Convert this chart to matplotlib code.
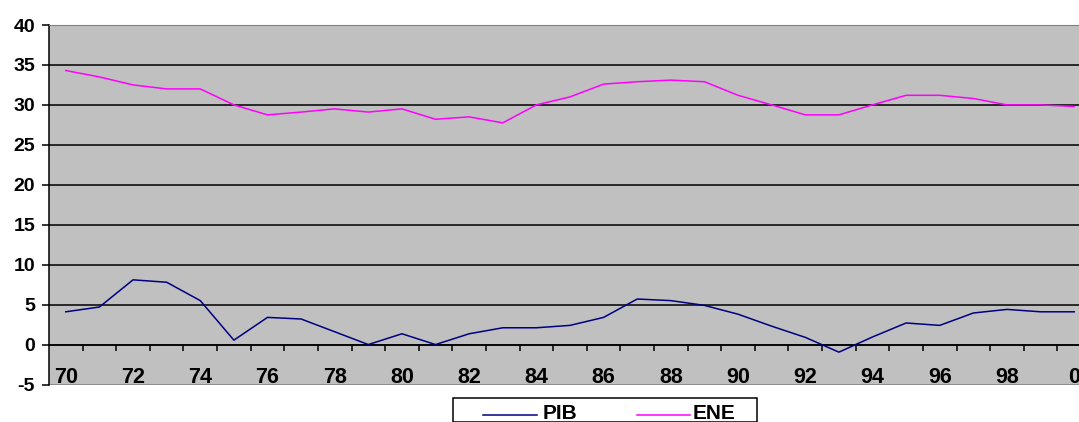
import matplotlib
matplotlib.use("Agg")
import matplotlib.pyplot as plt
from matplotlib.lines import Line2D
from matplotlib.patches import Rectangle
from matplotlib.ticker import FixedLocator

years = ['70', '71', '72', '73', '74', '75', '76', '77', '78', '79',
         '80', '81', '82', '83', '84', '85', '86', '87', '88', '89',
         '90', '91', '92', '93', '94', '95', '96', '97', '98', '99', '0']
pib = [4.1, 4.7, 8.1, 7.8, 5.5, 0.55, 3.4, 3.2, 1.6, 0.0,
       1.35, 0.0, 1.35, 2.1, 2.1, 2.4, 3.4, 5.7, 5.5, 4.9,
       3.8, 2.3, 0.9, -0.95, 0.95, 2.7, 2.4, 3.95, 4.4, 4.1, 4.1]
ene = [34.3, 33.5, 32.5, 32.0, 32.0, 30.0, 28.75, 29.1, 29.5, 29.1,
       29.5, 28.2, 28.5, 27.75, 30.0, 31.0, 32.6, 32.9, 33.1, 32.9,
       31.2, 30.0, 28.75, 28.75, 30.0, 31.2, 31.2, 30.8, 30.0, 30.0, 29.8]
yticks = [-5, 0, 5, 10, 15, 20, 25, 30, 35, 40]
series_names = ['PIB', 'ENE']
colors = ['#000080', '#FF00FF']

plt.rcParams['font.family'] = ['Liberation Sans', 'DejaVu Sans']
plt.rcParams['font.weight'] = 'bold'

W, H = 1079, 422
fig = plt.figure(figsize=(W / 100, H / 100), dpi=100)
left, right, top, bottom = 49, 1091, 25, 384.5
ax = fig.add_axes([left / W, 1 - bottom / H, (right - left) / W, (bottom - top) / H])
ax.set_facecolor('#C0C0C0')

x = list(range(len(years)))
ax.plot(x, pib, color=colors[0], lw=1.1, zorder=3)
ax.plot(x, ene, color=colors[1], lw=1.1, zorder=3)

ax.set_xlim(-0.5, len(years) - 0.5)
ax.set_ylim(yticks[0], yticks[-1])

# y axis
ax.set_yticks(yticks)
ax.set_yticklabels([str(v) for v in yticks], fontsize=14, fontweight='bold')
ax.tick_params(axis='y', length=5, width=1.1, direction='out', pad=5, colors='black')
ax.yaxis.grid(True, color='black', lw=1.1)
ax.set_axisbelow(True)
gl = ax.get_ygridlines()
for g in (gl[0], gl[-1]):
    g.set_color('#808080')

# x axis at y=0
ax.spines['bottom'].set_position(('data', 0))
ax.spines['bottom'].set_color('black')
ax.spines['bottom'].set_linewidth(1.1)
ax.spines['left'].set_color('black')
ax.spines['left'].set_linewidth(1.1)
ax.spines['top'].set_color('#808080')
ax.spines['right'].set_visible(False)

major = list(range(0, len(years), 2))
ax.set_xticks(major)
ax.set_xticklabels([years[i] for i in major], fontsize=15.5, fontweight='bold')
ax.xaxis.set_minor_locator(FixedLocator([i + 0.5 for i in range(len(years) - 1)]))
ax.tick_params(axis='x', which='major', length=0, pad=16.5)
ax.tick_params(axis='x', which='minor', length=4, width=1.1, direction='out', colors='black')

# manual Excel-like legend
lx0, ly0, lx1 = 453, 398, 757
fig.add_artist(Rectangle((lx0 / W, 0), (lx1 - lx0) / W, 1 - ly0 / H,
                         transform=fig.transFigure, facecolor='white',
                         edgecolor='black', lw=1.1, clip_on=False))
ty = 1 - 415 / H
for (x0, x1, tx), name, c in zip([(483, 537, 543), (637, 690, 693)], series_names, colors):
    fig.add_artist(Line2D([x0 / W, x1 / W], [ty, ty], color=c, lw=1.1,
                          transform=fig.transFigure))
    fig.text(tx / W, ty + 0.004, name, fontsize=15, fontweight='bold', va='center', ha='left')

fig.savefig('out.png', dpi=100, facecolor='white')
